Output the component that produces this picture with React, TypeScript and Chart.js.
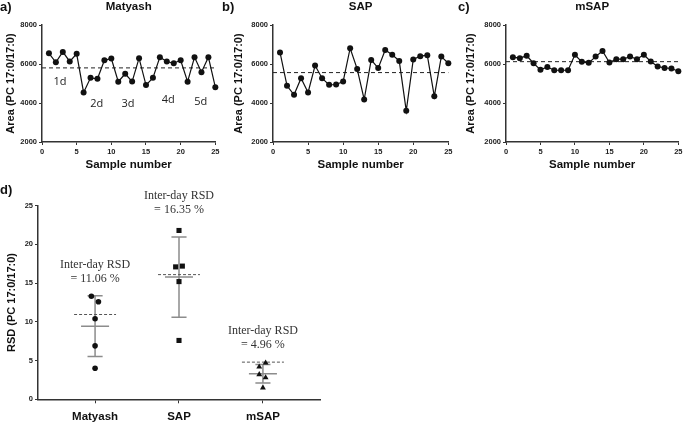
import React, { useEffect, useRef } from 'react';
import { Chart, registerables } from 'chart.js';

Chart.register(...registerables);

const SANS = '"Liberation Sans", Arial, Helvetica, sans-serif';
const SERIF = '"Liberation Serif", "Times New Roman", serif';
const DAYFONT = '"Open Sans", "DejaVu Sans", sans-serif';

// ---- Panels a-c: area per sample ----
const sampleNumbers = [1, 2, 3, 4, 5, 6, 7, 8, 9, 10, 11, 12, 13, 14, 15, 16, 17, 18, 19, 20, 21, 22, 23, 24, 25];
const matyashArea = [6550, 6090, 6620, 6130, 6520, 4540, 5290, 5240, 6190, 6280, 5090, 5500, 5100, 6300, 4920, 5290, 6350, 6130, 6040, 6190, 5090, 6350, 5580, 6350, 4810];
const sapArea = [6590, 4880, 4420, 5270, 4540, 5920, 5270, 4930, 4950, 5100, 6810, 5750, 4180, 6210, 5790, 6720, 6470, 6160, 3600, 6230, 6400, 6450, 4340, 6380, 6040];
const msapArea = [6350, 6300, 6420, 6040, 5700, 5850, 5680, 5680, 5680, 6470, 6110, 6060, 6380, 6670, 6080, 6250, 6250, 6380, 6250, 6470, 6130, 5870, 5800, 5770, 5630];
const meanArea = [5800, 5560, 6120];
const areaTicks = [2000, 4000, 6000, 8000];
const sampleTicks = [0, 5, 10, 15, 20, 25];

const dayLabels = ['1d', '2d', '3d', '4d', '5d'];
const dayLabelX = [2.6, 7.9, 12.4, 18.2, 22.9];
const dayLabelY = [5090, 3950, 3950, 4150, 4070];

// ---- Panel d: RSD per day ----
const methods = ['Matyash', 'SAP', 'mSAP'];
const methodPositions = [1, 2, 3];
const matyashRsd = [13.3, 12.6, 10.4, 6.9, 4.0];
const sapRsd = [21.8, 17.1, 17.2, 15.2, 7.6];
const msapRsd = [4.7, 4.2, 3.2, 2.8, 1.5];
const matyashJitter = [-0.044, 0.04, 0, 0, 0];
const sapJitter = [0, -0.04, 0.04, 0, 0];
const msapJitter = [0.032, -0.044, -0.044, 0.032, 0];
const rsdMean = [9.44, 15.78, 3.3];
const rsdSd = [3.92, 5.18, 1.2];
const interDayRsd = ['11.06', '16.35', '4.96'];
const interDayLine = [10.95, 16.1, 4.8];
const annotationY = [17.34, 26.25, 8.86];
const rsdTicks = [0, 5, 10, 15, 20, 25];

const panelLetterPlugin = {
  id: 'panelLetter',
  afterDraw(chart: any, _args: any, opts: any) {
    const ctx = chart.ctx;
    ctx.save();
    ctx.font = `bold 13px ${SANS}`;
    ctx.fillStyle = '#111';
    ctx.textAlign = 'left';
    ctx.textBaseline = 'middle';
    ctx.fillText(opts.text, opts.x, opts.y);
    ctx.restore();
  },
};

const dayLabelPlugin = {
  id: 'dayLabels',
  afterDatasetsDraw(chart: any, _args: any, opts: any) {
    if (!opts.show) return;
    const { ctx, scales } = chart;
    ctx.save();
    ctx.font = `11px ${DAYFONT}`;
    ctx.fillStyle = '#222';
    ctx.textAlign = 'center';
    ctx.textBaseline = 'middle';
    dayLabels.forEach((t, i) => {
      ctx.fillText(t, scales.x.getPixelForValue(dayLabelX[i]), scales.y.getPixelForValue(dayLabelY[i]));
    });
    ctx.restore();
  },
};

const rsdAnnotationPlugin = {
  id: 'rsdAnnotations',
  afterDatasetsDraw(chart: any) {
    const { ctx, scales } = chart;
    ctx.save();
    ctx.font = `12px ${SERIF}`;
    ctx.fillStyle = '#333';
    ctx.textAlign = 'center';
    ctx.textBaseline = 'middle';
    methods.forEach((_m, i) => {
      const px = scales.x.getPixelForValue(methodPositions[i]);
      const py = scales.y.getPixelForValue(annotationY[i]);
      ctx.fillText('Inter-day RSD', px, py);
      ctx.fillText(`= ${interDayRsd[i]} %`, px, py + 14);
    });
    ctx.restore();
  },
};

function axisCommon() {
  return {
    grid: { drawOnChartArea: false, drawTicks: true, tickLength: 3, color: '#333', lineWidth: 1 },
    border: { display: true, color: '#333', width: 1.5 },
  };
}

const plainNumber = (v: any) => String(v);

function linePanel(opts: {
  title: string; letter: string; values: number[]; mean: number;
  yWidth: number; yTitlePad: number; padRight: number; days: boolean;
}) {
  return {
    type: 'line' as const,
    data: {
      datasets: [
        {
          data: sampleNumbers.map((x, i) => ({ x, y: opts.values[i] })),
          borderColor: '#111', backgroundColor: '#111', borderWidth: 1.2,
          pointRadius: 3, pointBorderWidth: 0, tension: 0, clip: false,
        },
        {
          data: [{ x: sampleTicks[0], y: opts.mean }, { x: sampleTicks[sampleTicks.length - 1], y: opts.mean }],
          borderColor: '#222', borderWidth: 1, borderDash: [4, 3], pointRadius: 0, clip: false,
        },
      ],
    },
    options: {
      animation: false, responsive: false, maintainAspectRatio: false,
      layout: { padding: { left: 0, right: opts.padRight, top: 0, bottom: 0 } },
      plugins: {
        legend: { display: false }, tooltip: { enabled: false },
        title: {
          display: true, text: opts.title, fullSize: false, color: '#111',
          font: { family: SANS, size: 11.5, weight: 'bold' }, padding: { top: 0, bottom: 11.2 },
        },
        panelLetter: { text: opts.letter, x: 0, y: 7 },
        dayLabels: { show: opts.days },
      },
      scales: {
        x: {
          type: 'linear', min: 0, max: 25,
          afterBuildTicks: (axis: any) => { axis.ticks = sampleTicks.map((v) => ({ value: v })); },
          afterFit: (s: any) => { s.height = 30; },
          ticks: { autoSkip: false, maxRotation: 0, padding: 2.5, color: '#222', font: { family: SANS, size: 7.5, weight: 'bold' }, callback: plainNumber },
          title: { display: true, text: 'Sample number', color: '#111', font: { family: SANS, size: 11.5, weight: 'bold' }, padding: { top: 0, bottom: 0 } },
          ...axisCommon(),
        },
        y: {
          type: 'linear', min: 2000, max: 8000,
          afterBuildTicks: (axis: any) => { axis.ticks = areaTicks.map((v) => ({ value: v })); },
          afterFit: (s: any) => { s.width = opts.yWidth; },
          ticks: { padding: 2, color: '#222', font: { family: SANS, size: 7.5, weight: 'bold' }, callback: plainNumber },
          title: { display: true, text: 'Area (PC 17:0/17:0)', color: '#111', font: { family: SANS, size: 11, weight: 'bold' }, padding: { top: opts.yTitlePad, bottom: 0 } },
          ...axisCommon(),
        },
      },
    },
    plugins: [panelLetterPlugin, dayLabelPlugin],
  };
}

function rsdPanel() {
  const groups = [matyashRsd, sapRsd, msapRsd];
  const jitters = [matyashJitter, sapJitter, msapJitter];
  const styles = ['circle', 'rect', 'triangle'];
  const radii = [2.8, 3.6, 3.4];
  const pointSets = groups.map((vals, g) => ({
    type: 'scatter' as const,
    data: vals.map((v, i) => ({ x: methodPositions[g] + jitters[g][i], y: v })),
    pointStyle: styles[g], pointRadius: radii[g], pointBorderWidth: 0,
    backgroundColor: '#111', borderColor: '#111', showLine: false, clip: false,
  }));
  const barSets = methodPositions.map((c, g) => {
    const m = rsdMean[g];
    const sd = rsdSd[g];
    return {
      type: 'line' as const,
      data: [
        { x: c - 0.167, y: m }, { x: c + 0.167, y: m }, { x: c, y: null },
        { x: c - 0.09, y: m + sd }, { x: c + 0.09, y: m + sd }, { x: c, y: null },
        { x: c - 0.09, y: m - sd }, { x: c + 0.09, y: m - sd }, { x: c, y: null },
        { x: c, y: m + sd }, { x: c, y: m - sd },
      ],
      borderColor: '#8c8c8c', borderWidth: 1.5, pointRadius: 0, spanGaps: false, clip: false,
    };
  });
  const dashSets = methodPositions.map((c, g) => ({
    type: 'line' as const,
    data: [{ x: c - 0.25, y: interDayLine[g] }, { x: c + 0.25, y: interDayLine[g] }],
    borderColor: '#555', borderWidth: 1, borderDash: [3, 2], pointRadius: 0, clip: false,
  }));
  return {
    type: 'scatter' as const,
    data: { datasets: [...pointSets, ...dashSets, ...barSets] as any[] },
    options: {
      animation: false, responsive: false, maintainAspectRatio: false,
      layout: { padding: { left: 0, right: 10, top: 30.7, bottom: 0 } },
      plugins: {
        legend: { display: false }, tooltip: { enabled: false },
        panelLetter: { text: 'd)', x: 0, y: 15 },
      },
      scales: {
        x: {
          type: 'linear', min: 0.32, max: 3.68,
          afterBuildTicks: (axis: any) => { axis.ticks = methodPositions.map((v) => ({ value: v })); },
          afterFit: (s: any) => { s.height = 23.7; },
          ticks: {
            autoSkip: false, maxRotation: 0, padding: 6.5, color: '#111',
            font: { family: SANS, size: 11.5, weight: 'bold' },
            callback: (v: any) => methods[methodPositions.indexOf(v)] ?? '',
          },
          grid: { drawOnChartArea: false, drawTicks: true, tickLength: 4, color: '#333', lineWidth: 1 },
          border: { display: true, color: '#333', width: 1.5 },
        },
        y: {
          type: 'linear', min: 0, max: 25,
          afterBuildTicks: (axis: any) => { axis.ticks = rsdTicks.map((v) => ({ value: v })); },
          afterFit: (s: any) => { s.width = 38; },
          ticks: { padding: 2, color: '#222', font: { family: SANS, size: 7.5, weight: 'bold' }, callback: plainNumber },
          title: { display: true, text: 'RSD (PC 17:0/17:0)', color: '#111', font: { family: SANS, size: 11, weight: 'bold' }, padding: { top: 5, bottom: 0 } },
          ...axisCommon(),
        },
      },
    },
    plugins: [panelLetterPlugin, rsdAnnotationPlugin],
  };
}

export default function App() {
  const aRef = useRef<HTMLCanvasElement>(null);
  const bRef = useRef<HTMLCanvasElement>(null);
  const cRef = useRef<HTMLCanvasElement>(null);
  const dRef = useRef<HTMLCanvasElement>(null);

  useEffect(() => {
    const charts = [
      new Chart(aRef.current as HTMLCanvasElement, linePanel({ title: 'Matyash', letter: 'a)', values: matyashArea, mean: meanArea[0], yWidth: 42, yTitlePad: 4.2, padRight: 6, days: true }) as any),
      new Chart(bRef.current as HTMLCanvasElement, linePanel({ title: 'SAP', letter: 'b)', values: sapArea, mean: meanArea[1], yWidth: 51, yTitlePad: 10.4, padRight: 6, days: false }) as any),
      new Chart(cRef.current as HTMLCanvasElement, linePanel({ title: 'mSAP', letter: 'c)', values: msapArea, mean: meanArea[2], yWidth: 48, yTitlePad: 6.4, padRight: 5, days: false }) as any),
      new Chart(dRef.current as HTMLCanvasElement, rsdPanel() as any),
    ];
    return () => charts.forEach((c) => c.destroy());
  }, []);

  const cv = (left: number, top: number, w: number, h: number) => ({
    position: 'absolute' as const, left, top, width: w, height: h, display: 'block',
  });

  return (
    <div style={{ position: 'fixed', left: 0, top: 0, width: 685, height: 423, background: '#fff', overflow: 'hidden' }}>
      <canvas ref={aRef} width={222} height={172} style={cv(0, 0, 222, 172)} />
      <canvas ref={bRef} width={233} height={172} style={cv(222, 0, 233, 172)} />
      <canvas ref={cRef} width={227} height={172} style={cv(458, 0, 227, 172)} />
      <canvas ref={dRef} width={330} height={248} style={cv(0, 175, 330, 248)} />
    </div>
  );
}
